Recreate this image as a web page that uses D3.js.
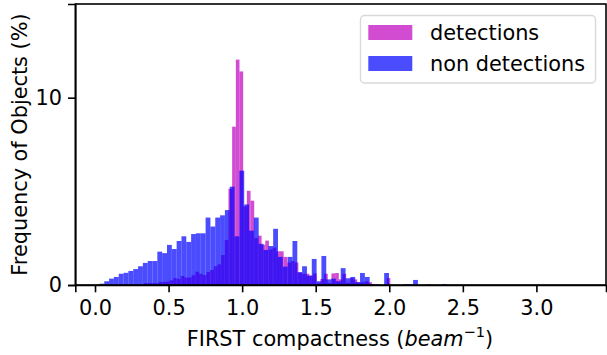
<!DOCTYPE html>
<html>
<head>
<meta charset="utf-8">
<script src="https://cdn.jsdelivr.net/npm/d3@7"></script>
<style>
  body { margin: 0; background: #fff; }
  text { font-family: "DejaVu Sans", sans-serif; fill: #000; }
</style>
</head>
<body>
<div class="chart"></div>
<script>

// histogram bins (left edge of first bin, bin width)
const detBins = { start: 0.082, width: 0.025 };
const nonBins = { start: 0.030, width: 0.0328 };

// % of objects per bin, detections
const detections = [
  0, 0.02, 0, 0.02, 0.05, 0.05, 0.02, 0.04, 0.04, 0.02,
  0.1, 0.1, 0.1, 0.1, 0.16, 0.16, 0.18, 0.25, 0.37, 0.32,
  0.48, 0.4, 0.4, 0.52, 0.71, 0.6, 0.53, 0.69, 0.8, 1.0,
  1.1, 1.6, 2.4, 5.14, 8.45, 12.03, 11.4, 4.2, 5.03, 4.5,
  2.5, 2.63, 2.15, 2.37, 1.9, 2.0, 1.8, 1.8, 1.5, 1.2,
  1.28, 1.2, 0.68, 0.6, 0.6, 0.5, 0.62, 0.1, 0.32, 0.6,
  0.1, 0.62, 0.64, 0.3, 0.6, 0.12, 0.37, 0.3, 0.12, 0.15,
  0.2, 0.15, 0.05, 0.05, 0, 0, 0.37, 0, 0, 0,
  0, 0, 0, 0, 0, 0, 0, 0.05, 0, 0,
  0, 0, 0, 0, 0, 0, 0, 0, 0, 0
];

// % of objects per bin, non detections
const nonDetections = [
  0.07, 0.2, 0.34, 0.43, 0.6, 0.65, 0.75, 0.85, 1.0, 1.18,
  1.28, 1.28, 1.78, 1.7, 2.14, 1.92, 2.35, 2.6, 2.3, 2.72,
  2.76, 2.76, 3.6, 3.12, 3.6, 3.72, 4.0, 5.25, 2.6, 6.1,
  4.3, 2.9, 3.6, 2.2, 1.87, 2.08, 3.0, 1.5, 0.98, 1.5,
  2.35, 0.68, 1.0, 0.5, 1.39, 0.2, 1.55, 0.3, 0.34, 0.2,
  0.9, 0.36, 0.43, 0.16, 0.64, 0.43, 0.05, 0, 0, 0.64,
  0, 0, 0, 0.05, 0.05, 0.27, 0, 0, 0, 0,
  0, 0.05, 0, 0, 0, 0, 0, 0, 0, 0,
  0, 0, 0, 0, 0, 0, 0, 0, 0, 0,
  0, 0, 0, 0, 0, 0, 0, 0, 0, 0
];

const xTicks = [0, 0.5, 1.0, 1.5, 2.0, 2.5, 3.0];
const yTicks = [0, 10];
const legendLabels = ['detections', 'non detections'];

const W = 607, H = 355;
const fs = 20.83;

let svg = d3.select('.chart')
  .append('svg')
  .attr('width', W)
  .attr('height', H)
  ;

const x = d3.scaleLinear()
  .domain([-0.134, 3.473])
  .range([75.3, 606])
  ;

const y = d3.scaleLinear()
  .domain([0, 15])
  .range([285, 4])
  ;

function bars(values, bins, color){
  svg.append('g')
    .selectAll('rect')
    .data(values)
    .enter()
      .append('rect')
        .attr('x', (d, i) => x(bins.start + i * bins.width))
        .attr('width', (d, i) => x(bins.start + (i + 1) * bins.width) - x(bins.start + i * bins.width))
        .attr('y', d => y(d))
        .attr('height', d => y(0) - y(d))
        .attr('fill', color)
        .attr('fill-opacity', 0.7)
        ;
}

bars(detections, detBins, '#bf00bf');
bars(nonDetections, nonBins, '#0000ff');

// axes
svg.append('g')
  .attr('transform', 'translate(0,285)')
  .call(d3.axisBottom(x).tickValues(xTicks).tickFormat(d3.format('.1f')).tickSizeOuter(0).tickSize(7.3).tickPadding(7.5))
  ;

svg.append('g')
  .attr('transform', 'translate(75.3,0)')
  .call(d3.axisLeft(y).tickValues(yTicks).tickSizeOuter(0).tickSize(7.3).tickPadding(6))
  ;

svg.selectAll('.tick text')
  .attr('font-size', fs)
  .attr('font-family', '"DejaVu Sans", sans-serif')
  ;
svg.selectAll('.domain, .tick line')
  .attr('stroke', '#000')
  .attr('stroke-width', 1.6)
  ;

// frame
svg.append('rect')
  .attr('x', 75.3)
  .attr('y', 4)
  .attr('width', 606 - 75.3)
  .attr('height', 285 - 4)
  .attr('fill', 'none')
  .attr('stroke', '#000')
  .attr('stroke-width', 1.6)
  ;

// axis labels
let xl = svg.append('text')
  .attr('x', 340)
  .attr('y', 346)
  .attr('text-anchor', 'middle')
  .attr('font-size', fs)
  ;
xl.append('tspan').text('FIRST compactness (');
xl.append('tspan').attr('font-style', 'italic').text('beam');
xl.append('tspan').attr('font-size', fs * 0.7).attr('dy', -9).text('\u22121');
xl.append('tspan').attr('dy', 9).text(')');

svg.append('text')
  .attr('transform', 'translate(26.5,144.5) rotate(-90)')
  .attr('text-anchor', 'middle')
  .attr('font-size', fs)
  .text('Frequency of Objects (%)')
  ;

// legend
let legend = svg.append('g');

legend.append('rect')
  .attr('x', 360.5)
  .attr('y', 15.5)
  .attr('width', 235)
  .attr('height', 67.5)
  .attr('rx', 4)
  .attr('fill', '#fff')
  .attr('fill-opacity', 0.8)
  .attr('stroke', '#d9d9d9')
  .attr('stroke-width', 1.4)
  ;

const legendColors = ['#bf00bf', '#0000ff'];

legendLabels.forEach((label, i) => {
  legend.append('rect')
    .attr('x', 368.3)
    .attr('y', 25 + i * 31)
    .attr('width', 44)
    .attr('height', 15)
    .attr('fill', legendColors[i])
    .attr('fill-opacity', 0.7)
    ;
  legend.append('text')
    .attr('x', 430)
    .attr('y', 40 + i * 31)
    .attr('font-size', fs)
    .text(label)
    ;
});

</script>
</body>
</html>
